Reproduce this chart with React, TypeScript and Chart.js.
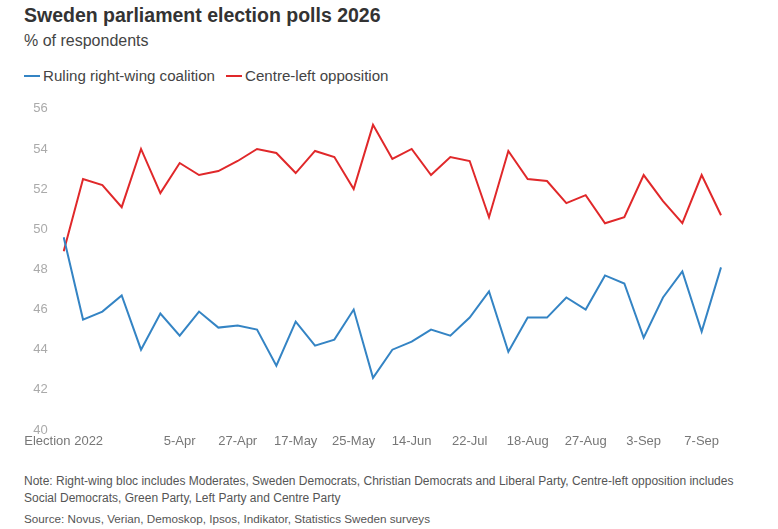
import React, { useEffect, useRef } from "react";
import { Chart, registerables } from "chart.js";

Chart.register(...registerables);

const pollLabels: string[] = [
  "Election 2022", "", "", "", "", "", "5-Apr", "", "", "27-Apr", "", "",
  "17-May", "", "", "25-May", "", "", "14-Jun", "", "", "22-Jul", "", "",
  "18-Aug", "", "", "27-Aug", "", "", "3-Sep", "", "", "7-Sep", "",
];

const rulingCoalition: number[] = [
  49.6, 45.5, 45.9, 46.7, 44.0, 45.8, 44.7, 45.9, 45.1, 45.2, 45.0, 43.2,
  45.4, 44.2, 44.5, 46.0, 42.6, 44.0, 44.4, 45.0, 44.7, 45.6, 46.9, 43.9,
  45.6, 45.6, 46.6, 46.0, 47.7, 47.3, 44.6, 46.6, 47.9, 44.9, 48.1,
];

const centreLeft: number[] = [
  48.9, 52.5, 52.2, 51.1, 54.0, 51.8, 53.3, 52.7, 52.9, 53.4, 54.0, 53.8,
  52.8, 53.9, 53.6, 52.0, 55.2, 53.5, 54.0, 52.7, 53.6, 53.4, 50.6, 53.9,
  52.5, 52.4, 51.3, 51.7, 50.3, 50.6, 52.7, 51.4, 50.3, 52.7, 50.7,
];

const yTicks = { min: 40, max: 56, step: 2 };

const BLUE = "#3484c4";
const RED = "#e0282a";
const FONT = "'Liberation Sans', Arial, sans-serif";

export default function App() {
  const canvasRef = useRef<HTMLCanvasElement | null>(null);

  useEffect(() => {
    if (!canvasRef.current) return;
    const chart = new Chart(canvasRef.current, {
      type: "line",
      data: {
        labels: pollLabels,
        datasets: [
          {
            label: "Ruling right-wing coalition",
            data: rulingCoalition,
            borderColor: BLUE,
            borderWidth: 2,
            pointRadius: 0,
            tension: 0,
          },
          {
            label: "Centre-left opposition",
            data: centreLeft,
            borderColor: RED,
            borderWidth: 2,
            pointRadius: 0,
            tension: 0,
          },
        ],
      },
      options: {
        animation: false,
        responsive: false,
        maintainAspectRatio: false,
        layout: { padding: { top: 1.4, right: 19, left: 0, bottom: 0 } },
        plugins: {
          legend: { display: false },
          tooltip: { enabled: false },
          title: { display: false },
        },
        scales: {
          x: {
            type: "category",
            offset: false,
            grid: { display: false, drawTicks: false },
            border: { display: false },
            ticks: {
              autoSkip: false,
              maxRotation: 0,
              minRotation: 0,
              padding: 4,
              color: "#777777",
              font: { family: FONT, size: 13 },
            },
            afterFit: (scale: any) => {
              scale.height = 25;
            },
          },
          y: {
            min: yTicks.min,
            max: yTicks.max,
            grid: { display: false, drawTicks: false },
            border: { display: false },
            ticks: {
              stepSize: yTicks.step,
              padding: 16,
              color: "#aaaaaa",
              font: { family: FONT, size: 13 },
            },
            afterFit: (scale: any) => {
              scale.width = 43.7;
            },
          },
        },
      },
    });
    return () => chart.destroy();
  }, []);

  const text = (extra: React.CSSProperties): React.CSSProperties => ({
    position: "absolute",
    whiteSpace: "nowrap",
    fontFamily: FONT,
    margin: 0,
    ...extra,
  });

  return (
    <div
      style={{
        position: "fixed",
        left: 0,
        top: 0,
        width: 778,
        height: 529,
        background: "#ffffff",
        overflow: "hidden",
      }}
    >
      <div style={text({ left: 24, top: 5, fontSize: 19.5, lineHeight: "20px", fontWeight: 700, color: "#333333" })}>
        Sweden parliament election polls 2026
      </div>
      <div style={text({ left: 24, top: 31, fontSize: 16, lineHeight: "20px", color: "#444444" })}>
        % of respondents
      </div>
      <div style={text({ left: 24, top: 66, fontSize: 15.1, lineHeight: "20px", color: "#444444", display: "flex", alignItems: "center" })}>
        <span style={{ display: "inline-block", width: 16, height: 2, background: BLUE, marginRight: 3 }} />
        <span>Ruling right-wing coalition</span>
        <span style={{ display: "inline-block", width: 16, height: 2, background: RED, marginLeft: 11, marginRight: 3 }} />
        <span>Centre-left opposition</span>
      </div>
      <canvas
        ref={canvasRef}
        width={720}
        height={370}
        style={{ position: "absolute", left: 20, top: 85, width: 720, height: 370 }}
      />
      <div style={text({ left: 24, top: 472.5, fontSize: 12, lineHeight: "17px", color: "#555555", whiteSpace: "normal", width: 720 })}>
        Note: Right-wing bloc includes Moderates, Sweden Democrats, Christian Democrats and Liberal Party, Centre-left opposition includes
        <br />
        Social Democrats, Green Party, Left Party and Centre Party
      </div>
      <div style={text({ left: 24, top: 510, fontSize: 11.7, lineHeight: "17px", color: "#555555" })}>
        Source: Novus, Verian, Demoskop, Ipsos, Indikator, Statistics Sweden surveys
      </div>
    </div>
  );
}
